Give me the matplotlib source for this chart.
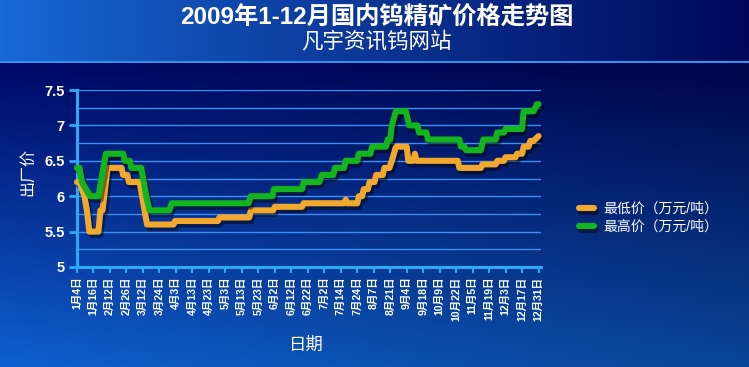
import numpy as np
import matplotlib
matplotlib.use('Agg')
import matplotlib.pyplot as plt
import matplotlib.patheffects as pe
from matplotlib.ticker import MultipleLocator

plt.rcParams['font.family'] = ['Liberation Sans', 'Noto Sans CJK SC', 'DejaVu Sans']

# 横轴标签（按交易日顺序排列，等距）
date_labels = ['1月4日', '1月16日', '2月12日', '2月26日', '3月12日', '3月24日', '4月3日',
               '4月13日', '4月23日', '5月3日', '5月13日', '5月23日', '6月2日', '6月12日',
               '6月22日', '7月2日', '7月14日', '7月24日', '8月7日', '8月21日', '9月4日',
               '9月18日', '10月9日', '10月22日', '11月5日', '11月19日', '12月3日',
               '12月17日', '12月31日']

# 最低价（万元/吨），x 为标签序号位置
low_x = [0, 0.15, 0.3, 0.45, 0.6, 0.75, 1.3, 1.42, 1.55, 1.7, 1.85, 2.7, 2.8, 3.05, 3.15,
         3.8, 3.95, 4.1, 4.25, 5.85, 5.95, 8.55, 8.65, 10.45, 10.55, 11.9, 12.0, 13.65,
         13.75, 16.2, 16.3, 16.4, 17.0, 17.1, 17.3, 17.4, 17.65, 17.75, 18.05, 18.15,
         18.55, 18.65, 18.95, 19.1, 19.35, 20.0, 20.1, 20.4, 20.5, 20.6, 23.1, 23.2,
         24.5, 24.6, 25.4, 25.5, 25.9, 26.0, 26.6, 26.7, 27.0, 27.1, 27.4, 27.5, 27.7, 28.0]
low_y = [6.2, 6.2, 6.1, 6.0, 5.8, 5.5, 5.5, 5.8, 5.8, 6.1, 6.4, 6.4, 6.3, 6.3, 6.2,
         6.2, 6.0, 5.8, 5.6, 5.6, 5.65, 5.65, 5.7, 5.7, 5.8, 5.8, 5.85, 5.85,
         5.9, 5.9, 5.95, 5.9, 5.9, 6.0, 6.0, 6.1, 6.1, 6.2, 6.2, 6.3,
         6.3, 6.4, 6.4, 6.5, 6.7, 6.7, 6.5, 6.5, 6.6, 6.5, 6.5, 6.4,
         6.4, 6.45, 6.45, 6.5, 6.5, 6.55, 6.55, 6.6, 6.6, 6.7, 6.7, 6.78, 6.78, 6.85]

# 最高价（万元/吨）
high_x = [0, 0.15, 0.3, 0.55, 0.8, 1.3, 1.45, 1.6, 1.75, 2.8, 2.9, 3.2, 3.3, 3.9, 4.05,
          4.2, 4.4, 5.6, 5.75, 10.4, 10.55, 11.85, 11.95, 13.65, 13.75, 14.7, 14.85,
          15.55, 15.65, 16.2, 16.3, 17.0, 17.1, 17.8, 17.9, 18.75, 18.85, 19.0, 19.1,
          19.35, 19.95, 20.15, 20.65, 20.75, 21.2, 21.3, 23.2, 23.3, 23.5, 23.6, 24.5,
          24.65, 25.4, 25.5, 25.9, 26.0, 27.0, 27.1, 27.7, 27.9, 28.0]
high_y = [6.4, 6.4, 6.2, 6.1, 6.0, 6.0, 6.2, 6.4, 6.6, 6.6, 6.5, 6.5, 6.4, 6.4, 6.2,
          6.0, 5.8, 5.8, 5.9, 5.9, 6.0, 6.0, 6.1, 6.1, 6.2, 6.2, 6.3,
          6.3, 6.4, 6.4, 6.5, 6.5, 6.6, 6.6, 6.7, 6.7, 6.8, 6.8, 7.0,
          7.2, 7.2, 7.0, 7.0, 6.9, 6.9, 6.8, 6.8, 6.7, 6.7, 6.65, 6.65,
          6.8, 6.8, 6.9, 6.9, 6.95, 6.95, 7.2, 7.2, 7.3, 7.3]

W, H = 749, 367
fig = plt.figure(figsize=(W / 100, H / 100), dpi=100)

# 背景渐变
bg = fig.add_axes([0, 0, 1, 1], zorder=-10)
bg.set_axis_off()
gx = np.linspace(0, 1, W)[None, :, None]
gy = np.linspace(0, 1, H)[:, None, None]
band_l = np.array([0x18, 0x6a, 0xd8]) / 255
band_r = np.array([0x00, 0x08, 0x5a]) / 255
band = band_l + (band_r - band_l) * gx ** 0.9
pan_t = np.array([0x00, 0x08, 0x66]) / 255
pan_b = np.array([0x0e, 0x60, 0xd0]) / 255
py = np.clip((gy * H - 62) / (H - 62), 0, 1)
panel = (pan_t + (pan_b - pan_t) * py) * (1 - 0.28 * gx)
img = np.where(gy * H < 62, band + 0 * py, panel + 0 * band)
bg.imshow(img, extent=[0, 1, 0, 1], aspect='auto', origin='upper')
bg.axhline(1 - 61.5 / H, color='#3a8ee8', lw=1.5)
bg.set_xlim(0, 1)
bg.set_ylim(0, 1)

fig.text(0.503, 1 - 18 / H, '2009年1-12月国内钨精矿价格走势图', color='white',
         fontsize=17.5, fontweight='bold', ha='center', va='center')
fig.text(0.503, 1 - 42 / H, '凡宇资讯钨网站', color='white', fontsize=15.5,
         ha='center', va='center')

ax = fig.add_axes([77 / W, 100 / H, 464 / W, 177 / H])
ax.set_facecolor('none')

orange = '#f2a82c'
green = '#14b41c'
shadow = [pe.SimpleLineShadow(offset=(1.5, -2.5), shadow_color='black', alpha=0.45), pe.Normal()]
ax.plot(low_x, low_y, color=orange, lw=4.4, solid_joinstyle='round', solid_capstyle='round',
        path_effects=shadow, clip_on=False, label='最低价（万元/吨）', zorder=3)
ax.plot(high_x, high_y, color=green, lw=4.4, solid_joinstyle='round', solid_capstyle='round',
        path_effects=shadow, clip_on=False, label='最高价（万元/吨）', zorder=4)

ax.set_xlim(0, 28.15)
ax.set_ylim(5, 7.5)
ax.yaxis.set_major_locator(MultipleLocator(0.5))
ax.yaxis.set_minor_locator(MultipleLocator(0.25))
ax.grid(True, axis='y', which='both', color='#3f8ff0', lw=1)
ax.set_axisbelow(True)

ax.set_xticks(range(len(date_labels)))
ax.set_xticklabels(date_labels, rotation=90, fontsize=7.6, fontweight='bold', color='white')
ax.set_yticks([5, 5.5, 6, 6.5, 7, 7.5])
ax.set_yticklabels(['5', '5.5', '6', '6.5', '7', '7.5'], fontsize=10.5, fontweight='bold',
                   color='white')
ax.tick_params(axis='y', which='major', length=6, width=2, color='#2aaaf4', pad=3)
ax.tick_params(axis='y', which='minor', length=0)
ax.tick_params(axis='x', length=4, width=1.5, color='#2aaaf4', pad=3)
for s in ['top', 'right']:
    ax.spines[s].set_visible(False)
for s in ['left', 'bottom']:
    ax.spines[s].set_color('#2aaaf4')
    ax.spines[s].set_linewidth(2.2)

fig.text(28 / W, 1 - 172 / H, '出厂价', color='white', fontsize=11.5, rotation=90,
         ha='center', va='center')
fig.text(306 / W, 1 - 345 / H, '日期', color='white', fontsize=12.5, ha='center', va='center')

leg = fig.legend(loc='center left', bbox_to_anchor=(566 / W, 1 - 218 / H), frameon=False,
                 fontsize=10, handlelength=1.1, labelspacing=0.3, handletextpad=0.7)
for t in leg.get_texts():
    t.set_color('white')

fig.savefig('out.png', dpi=100)
